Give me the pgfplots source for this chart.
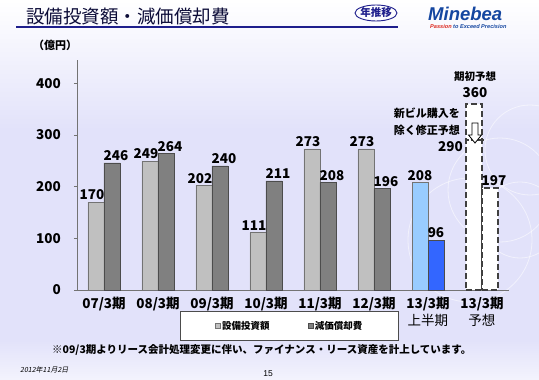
\documentclass[border=0pt]{standalone}
\usepackage{pgfplots}
\pgfplotsset{compat=1.18}
\usepackage{fontspec}
\setmainfont{Noto Sans CJK JP}
\newfontfamily\latinf{Liberation Sans}
\newfontfamily\cjkit{Noto Sans CJK JP}[FakeSlant=0.2]
\definecolor{lav}{RGB}{226,226,250}
\definecolor{navy}{RGB}{30,30,140}
\definecolor{lgray}{RGB}{192,192,192}
\definecolor{dgray}{RGB}{128,128,128}
\definecolor{lblue}{RGB}{153,204,255}
\definecolor{mblue}{RGB}{51,102,255}
\definecolor{logoblue}{RGB}{20,70,160}
\definecolor{logored}{RGB}{220,40,30}
\newcommand{\fs}[1]{\fontsize{#1}{#1}\selectfont}
\begin{document}
\begin{tikzpicture}[x=1pt,y=1pt]
\useasboundingbox (0,0) rectangle (539,380);
\fill[lav] (0,0) rectangle (539,380);
\shade[top color=white,bottom color=lav] (0,250) rectangle (539,380);
\shade[top color=lav,bottom color=white!60!lav] (0,0) rectangle (539,40);
\begin{scope}[white, opacity=0.55, line width=0.8pt]
\draw (500,190) circle (52);
\draw (520,160) circle (38);
\draw (470,140) circle (62);
\draw (530,230) circle (45);
\end{scope}
% title
\node[anchor=west, inner sep=0, font=\fs{18.5}, text=navy!40!black] at (26,363.5) {設備投資額・減価償却費};
\draw[navy, line width=2.2pt] (16,353) -- (398,353);
\draw[navy, line width=0.9pt] (376,367) ellipse (21 and 8);
\node[font=\bfseries\fs{10.5}, text=navy] at (376,367) {年推移};
\node[anchor=west, inner sep=0, font=\latinf\bfseries\itshape\fs{18.5}, text=logoblue] at (428,366.5) {Minebea};
\node[anchor=west, inner sep=0, font=\latinf\bfseries\itshape\fs{5.6}] at (430,353.5) {\textcolor{logored}{Passion} \textcolor{logoblue}{to Exceed Precision}};
\node[anchor=west, inner sep=0, font=\bfseries\fs{11}] at (33,334.5) {（億円）};
% footnote
\node[anchor=west, inner sep=0, font=\bfseries\fs{10.5}] at (52,30) {※09/3期よりリース会計処理変更に伴い、ファイナンス・リース資産を計上しています。};
\node[anchor=west, inner sep=0, font=\cjkit\fs{7}] at (20,10) {2012年11月2日};
\node[inner sep=0, font=\latinf\fs{8.5}] at (268,6) {15};
\begin{axis}[
  at={(77pt,90pt)}, anchor=origin, scale only axis,
  width=432pt, height=230pt,
  xmin=0, xmax=8, ymin=0, ymax=445,
  axis lines*=left,
  axis line style={draw=gray!90!black, line width=0.8pt},
  tick align=outside,
  ytick={0,100,200,300,400},
  major tick length=3pt,
  minor tick length=4pt,
  tick style={draw=gray!90!black, line width=0.6pt},
  /pgf/number format/assume math mode=true,
  yticklabel style={font=\bfseries\fs{13.5}, inner xsep=2pt, xshift=-11pt},
  xtick=\empty,
  minor xtick={0,1,...,8},
  extra x ticks={0.5,1.5,2.5,3.5,4.5,5.5,6.5,7.5},
  extra x tick labels={{07/3期},{08/3期},{09/3期},{10/3期},{11/3期},{12/3期},{13/3期\\[2pt]\mdseries 上半期},{13/3期\\[2pt]\mdseries 予想}},
  extra x tick style={major tick length=0pt, tick label style={font=\bfseries\fs{13.5}, align=center, inner ysep=7pt}},
  ybar, bar width=16pt,
  clip=false,
  legend style={at={(0.492,-0.1565)}, anchor=center, legend columns=2,
    draw=black!70, fill=white, font=\bfseries\fs{9.5}, inner xsep=34pt, inner ysep=7.5pt,
    /tikz/every even column/.append style={column sep=36pt}},
  legend image code/.code={\draw[#1, line width=0.4pt] (0pt,-2.5pt) rectangle (5pt,2.5pt);},
  every node near coord/.append style={font=\bfseries\fs{13.5}, text=black, inner sep=2pt},
]
\addplot[ybar, bar shift=-8pt, fill=lgray, draw=gray!90!black, nodes near coords, every node near coord/.append style={xshift=-4pt}] coordinates {(0.5,170) (1.5,249) (2.5,202) (3.5,111) (4.5,273) (5.5,273)};
\addlegendentry{設備投資額}
\addplot[ybar, bar shift=8pt, fill=dgray, draw=gray!60!black, nodes near coords, every node near coord/.append style={xshift=4pt}] coordinates {(0.5,246) (1.5,264) (2.5,240) (3.5,211) (4.5,208) (5.5,196)};
\addlegendentry{減価償却費}
\addplot[ybar, forget plot, bar shift=-8pt, fill=lblue, draw=gray!90!black, nodes near coords] coordinates {(6.5,208)};
\addplot[ybar, forget plot, bar shift=8pt, fill=mblue, draw=gray!60!black, nodes near coords] coordinates {(6.5,96)};
\addplot[ybar, forget plot, bar shift=-8pt, fill=white, draw=black!75, line width=1.4pt, dash pattern=on 6pt off 3pt] coordinates {(7.5,360)};
\addplot[ybar, forget plot, bar shift=8pt, fill=white, draw=black!75, line width=1.4pt, dash pattern=on 6pt off 3pt, nodes near coords, every node near coord/.append style={xshift=4pt}] coordinates {(7.5,197)};
\addplot[sharp plot, forget plot, no marks, draw=black!75, line width=1.4pt, dash pattern=on 4pt off 2pt] coordinates {(7.18,290) (7.52,290)};
\end{axis}
% annotations for forecast
\node[font=\bfseries\fs{10.5}] at (475,303) {期初予想};
\node[font=\bfseries\fs{13.5}] at (475,287.5) {360};
\node[anchor=east, inner sep=0, font=\bfseries\fs{11}] at (460,267) {新ビル購入を};
\node[anchor=east, inner sep=0, font=\bfseries\fs{11}] at (460,250) {除く修正予想};
\node[anchor=east, inner sep=0, font=\bfseries\fs{13.5}] at (463,233) {290};
\draw[black, fill=white, line width=0.8pt] (472,257) -- (478,257) -- (478,245) -- (481.5,245) -- (475,237) -- (468.5,245) -- (472,245) -- cycle;
\end{tikzpicture}
\end{document}
